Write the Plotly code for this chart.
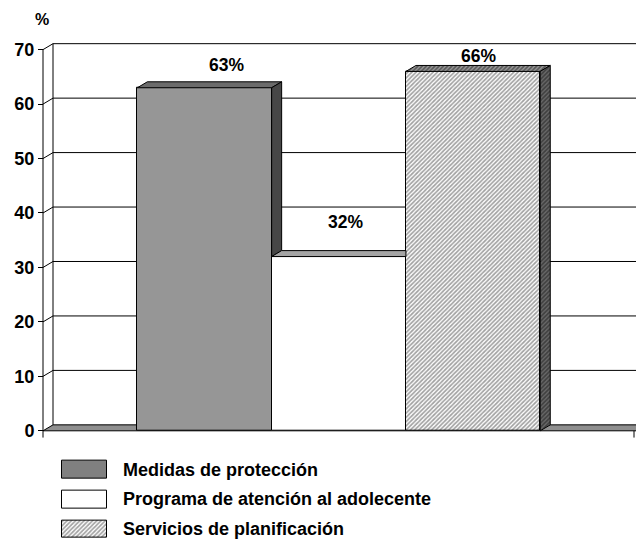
import plotly.graph_objects as go

# ---------------- data ----------------
categories = ["Medidas de protección",
              "Programa de atención al adolecente",
              "Servicios de planificación"]
values = [63, 32, 66]
value_labels = ["63%", "32%", "66%"]
y_ticks = [0, 10, 20, 30, 40, 50, 60, 70]
y_title = "%"

# ---------------- styles ----------------
FONT = "Liberation Sans, Arial, sans-serif"
front_colors = ["#969696", "#ffffff", "#ffffff"]
top_colors = ["#6b6b6b", "#a4a4a4", "#9a9a9a"]
side_colors = ["#474747", "#8a8a8a", "#6a6a6a"]
legend_colors = ["#808080", "#ffffff", "#ffffff"]
patterns = ["", "", "/"]
HATCH = dict(fgcolor="#141414", size=3, solidity=0.55)
label_shift_px = [(22, 23), (7, 35), (5, 15)]   # label offset from bar top centre

# ---------------- geometry (pixel layout -> data units) ----------------
W, H = 636, 543
PX_X = 134.3            # px per category
PX_Y = 384 / 70         # px per % point
CENTER0_PX = 204.5      # pixel centre of first category
Y0_PX = 433             # pixel of value 0
XDOM_L = 36
YDOM_TOP, YDOM_BOT = 40, 440

x_range = [(XDOM_L - CENTER0_PX) / PX_X, (W - CENTER0_PX) / PX_X]
y_range = [(Y0_PX - YDOM_BOT) / PX_Y, (Y0_PX - YDOM_TOP) / PX_Y]
DX = 10 / PX_X
DY = 6 / PX_Y
XL = (43 - CENTER0_PX) / PX_X
XR_TICK = (634 - CENTER0_PX) / PX_X
XFAR = x_range[1] + 1
YMAX = y_ticks[-1]

xpos = list(range(len(categories)))

fig = go.Figure()

# front faces of the bars
fig.add_trace(go.Bar(
    x=xpos, y=values, width=1,
    marker=dict(color=front_colors,
                line=dict(color="black", width=1),
                pattern=dict(shape=patterns, **HATCH)),
    showlegend=False, hoverinfo="skip"))


def face(xs, ys, color, pat):
    kw = dict(x=xs + [xs[0]], y=ys + [ys[0]], mode="lines", fill="toself",
              fillcolor=color, line=dict(color="black", width=1),
              showlegend=False, hoverinfo="skip")
    if pat:
        kw["fillpattern"] = dict(shape=pat, bgcolor=color, **HATCH)
    return go.Scatter(**kw)


# 3D top and side faces, painted left to right
for i, v in enumerate(values):
    xl, xr = xpos[i] - 0.5, xpos[i] + 0.5
    nxt = values[i + 1] if i + 1 < len(values) else None
    # top face (cut where the next, taller bar hides it)
    xr_top = xr if (nxt is not None and nxt > v) else xr + DX
    fig.add_trace(face([xl, xl + DX, xr_top, xr], [v, v + DY, v + DY, v],
                       top_colors[i], patterns[i]))
    # side face (visible part only)
    low = 0 if nxt is None else nxt
    if low < v:
        fig.add_trace(face([xr, xr + DX, xr + DX, xr], [v, v + DY, low + DY, low],
                           side_colors[i], patterns[i]))

# legend swatches drawn as bars in their own small axes
fig.add_trace(go.Bar(
    x=[1] * len(categories), y=xpos, orientation="h", width=0.6,
    marker=dict(color=legend_colors, line=dict(color="black", width=1),
                pattern=dict(shape=patterns, **HATCH)),
    xaxis="x2", yaxis="y2", showlegend=False, hoverinfo="skip"))

shapes = []
# floor
shapes.append(dict(type="path", xref="x", yref="y", layer="below",
                   path=f"M{XL},0 L{XL+DX},{DY} L{XFAR},{DY} L{XFAR},0 Z",
                   fillcolor="#8f8f8f", line=dict(color="black", width=1)))
# back wall gridlines with their left-wall diagonals
for v in y_ticks[1:]:
    shapes.append(dict(type="path", xref="x", yref="y", layer="below",
                       path=f"M{XL},{v} L{XL+DX},{v+DY} L{XFAR},{v+DY}",
                       line=dict(color="black", width=1)))
# left wall back edge and front axis line
shapes.append(dict(type="line", xref="x", yref="y", layer="below",
                   x0=XL + DX, y0=DY, x1=XL + DX, y1=YMAX + DY,
                   line=dict(color="black", width=1)))
shapes.append(dict(type="line", xref="x", yref="y", layer="below",
                   x0=XL, y0=0, x1=XL, y1=YMAX, line=dict(color="black", width=1)))
# category axis end ticks
for xt in (XL, XR_TICK):
    shapes.append(dict(type="line", xref="x", yref="y", layer="below",
                       x0=xt, y0=0, x1=xt, y1=y_range[0],
                       line=dict(color="black", width=1)))

annotations = []
for i, (v, t) in enumerate(zip(values, value_labels)):
    sx, sy = label_shift_px[i]
    annotations.append(dict(x=xpos[i], y=v, xref="x", yref="y", text=t,
                            showarrow=False, xshift=sx, yshift=sy,
                            xanchor="center", yanchor="middle",
                            font=dict(family=FONT, size=17.5, color="black", weight="bold")))
annotations.append(dict(x=42 / W, y=1 - 19 / H, xref="paper", yref="paper",
                        text=y_title, showarrow=False, xanchor="center", yanchor="middle",
                        font=dict(family=FONT, size=16, color="black", weight="bold")))
for i, c in enumerate(categories):
    annotations.append(dict(x=121 / W, y=xpos[i], xref="paper", yref="y2", text=c,
                            showarrow=False, xanchor="left", yanchor="middle",
                            font=dict(family=FONT, size=18, color="black", weight="bold")))

fig.update_layout(
    width=W, height=H,
    margin=dict(l=0, r=0, t=0, b=0),
    paper_bgcolor="white", plot_bgcolor="white",
    bargap=0, showlegend=False,
    shapes=shapes, annotations=annotations,
    xaxis=dict(domain=[XDOM_L / W, 1], range=x_range, showgrid=False, zeroline=False,
               showline=False, showticklabels=False, ticks="", fixedrange=True),
    yaxis=dict(domain=[1 - YDOM_BOT / H, 1 - YDOM_TOP / H], range=y_range,
               anchor="free", position=43 / W,
               tickvals=y_ticks, ticks="outside", ticklen=5, tickcolor="black",
               tickwidth=1, showgrid=False, zeroline=False, showline=False,
               tickfont=dict(family=FONT, size=18, color="black", weight="bold")),
    xaxis2=dict(domain=[61 / W, 108 / W], range=[-1 / 45, 1 + 1 / 45], anchor="y2",
                visible=False),
    yaxis2=dict(domain=[0, 1 - 457 / H], range=[(H - 457) / 30 - 0.5, -0.5], anchor="x2",
                visible=False),
)

fig.write_html("out.html")
